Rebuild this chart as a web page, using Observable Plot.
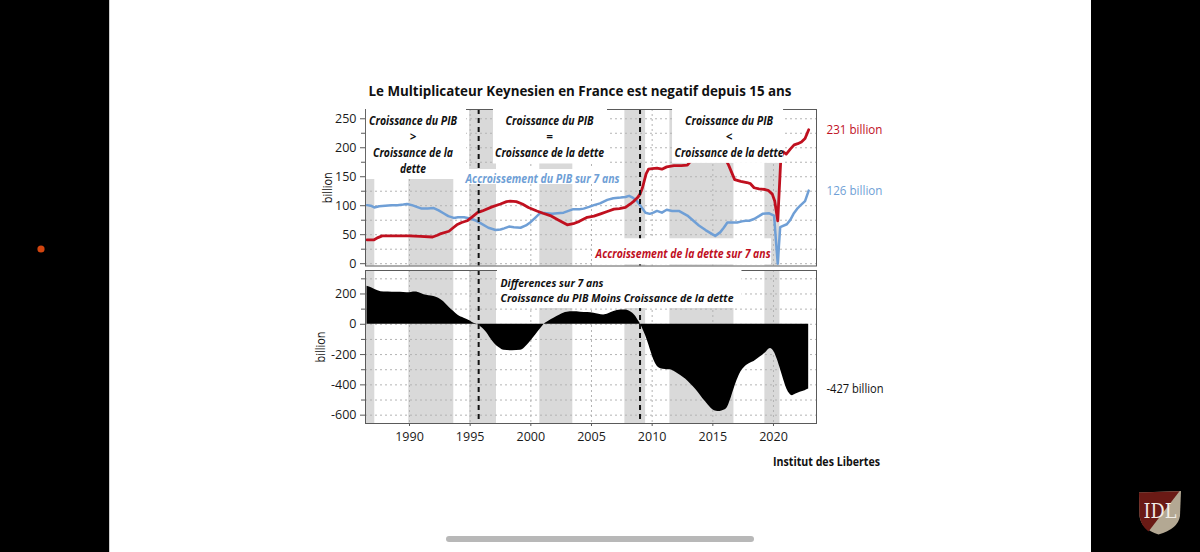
<!DOCTYPE html>
<html>
<head>
<meta charset="utf-8">
<script src="https://cdn.jsdelivr.net/npm/d3@7"></script>
<script src="https://cdn.jsdelivr.net/npm/@observablehq/plot@0.6"></script>
<style>
  html, body { margin: 0; padding: 0; background: #fff; }
  body { width: 1200px; height: 552px; position: relative; overflow: hidden; font-family: "Open Sans", sans-serif; }
  #deco { position: absolute; left: 0; top: 0; }
  #topPanel { position: absolute; left: 300px; top: 100px; }
  #bottomPanel { position: absolute; left: 300px; top: 268px; }
  #topPanel svg, #bottomPanel svg { background: transparent; overflow: visible; }
</style>
</head>
<body>
<svg id="deco" width="1200" height="552" xmlns="http://www.w3.org/2000/svg">
  <rect x="0" y="0" width="109" height="552" fill="#000"/>
  <rect x="109" y="0" width="1" height="552" fill="#cfcfcf"/>
  <rect x="1091" y="0" width="109" height="552" fill="#000"/>
  <circle cx="41" cy="249" r="3.6" fill="#d2450f"/>
  <rect x="446" y="536" width="308" height="6" rx="3" fill="#b8b8b8"/>
  <path d="M1139,492.5 L1181,491 L1180,516 Q1178,529 1158.5,534.5 Q1141,529 1139.5,516 Z" fill="#b3a893"/>
  <path d="M1139,492.5 L1179.5,491.2 L1148.5,531.5 Q1141,526 1139.5,516 Z" fill="#6a1a15"/>
  <text x="1160" y="518" text-anchor="middle" font-family="DejaVu Serif, serif" font-size="20" fill="#f2eee8" textLength="33" lengthAdjust="spacingAndGlyphs">IDL</text>
  <text id="title" x="580" y="95.5" text-anchor="middle" font-family="'Open Sans', sans-serif" font-weight="bold" font-size="14.5" fill="#111" textLength="423" lengthAdjust="spacingAndGlyphs">Le Multiplicateur Keynesien en France est negatif depuis 15 ans</text>
  <text id="source" x="880" y="466" text-anchor="end" font-family="'Open Sans', sans-serif" font-weight="bold" font-size="12.5" fill="#111" textLength="107" lengthAdjust="spacingAndGlyphs">Institut des Libertes</text>
</svg>
<div id="topPanel"></div>
<div id="bottomPanel"></div>
<script>
// ---------------- DATA ----------------
// 7-year growth of GDP (billion) — blue
const pibYears = [1986.5, 1986.8, 1987.1, 1987.5, 1988.0, 1988.5, 1989.0, 1989.5, 1989.8, 1990.2, 1990.6, 1991.0, 1991.5, 1992.0, 1992.4, 1992.8, 1993.2, 1993.65, 1994.0, 1994.5, 1995.0, 1995.4, 1995.85, 1996.5, 1997.1, 1997.5, 1997.8, 1998.2, 1998.6, 1999.15, 1999.6, 2000.0, 2000.4, 2000.8, 2001.3, 2001.75, 2002.2, 2002.7, 2003.1, 2003.5, 2004.0, 2004.35, 2004.8, 2005.2, 2005.7, 2006.3, 2006.8, 2007.4, 2007.8, 2008.1, 2008.4, 2008.75, 2009.1, 2009.45, 2009.8, 2010.1, 2010.4, 2010.8, 2011.2, 2011.65, 2012.2, 2012.9, 2013.4, 2013.85, 2014.4, 2014.95, 2015.2, 2015.6, 2015.9, 2016.2, 2016.6, 2017.0, 2017.4, 2017.7, 2018.0, 2018.4, 2018.8, 2019.1, 2019.65, 2020.05, 2020.2, 2020.35, 2020.55, 2021.1, 2021.4, 2021.65, 2022.0, 2022.2, 2022.6, 2022.9];
const pibValues = [101, 100, 97, 99, 100, 101, 101, 102, 103, 101, 98, 95, 95, 96, 92, 87, 82, 79, 80, 80, 78, 75, 70, 62, 58, 59, 61, 64, 63, 62, 66, 72, 80, 88, 87, 86, 87, 88, 91, 94, 94, 95, 98, 101, 104, 110, 113, 114, 115, 117, 114, 108, 98, 88, 86, 88, 91, 88, 93, 91, 91, 83, 74, 66, 58, 51, 48, 54, 62, 71, 71, 71, 73, 74, 74, 77, 82, 86, 87, 83, 40, 0, 63, 68, 76, 86, 96, 100, 108, 126];

// 7-year growth of public debt (billion) — red
const detteYears = [1986.5, 1987.05, 1987.4, 1987.75, 1988.5, 1989.25, 1990.0, 1990.9, 1991.9, 1992.3, 1992.6, 1993.25, 1993.6, 1993.9, 1994.3, 1994.75, 1995.3, 1995.6, 1996.0, 1996.8, 1997.5, 1998.0, 1998.3, 1998.8, 1999.3, 1999.8, 2000.5, 2001.0, 2001.6, 2002.3, 2003.0, 2003.5, 2004.0, 2004.65, 2005.2, 2005.75, 2006.3, 2006.85, 2007.3, 2007.8, 2008.2, 2008.5, 2008.8, 2009.0, 2009.2, 2009.5, 2009.7, 2010.0, 2010.4, 2010.8, 2011.2, 2011.8, 2012.4, 2012.9, 2013.3, 2013.8, 2014.4, 2015.0, 2015.6, 2016.0, 2016.3, 2016.8, 2017.3, 2017.8, 2018.1, 2018.4, 2018.8, 2019.3, 2019.6, 2019.9, 2020.1, 2020.35, 2020.6, 2020.8, 2021.05, 2021.4, 2021.7, 2022.0, 2022.3, 2022.6, 2022.9];
const detteValues = [41, 41, 45, 48, 48, 48, 48, 47, 46, 49, 52, 56, 62, 67, 71, 74, 83, 88, 91, 98, 103, 107, 108, 107, 103, 97, 91, 87, 83, 75, 67, 69, 73, 80, 82, 86, 90, 94, 95, 97, 103, 108, 114, 120, 131, 155, 163, 164, 165, 163, 167, 169, 169, 170, 180, 188, 193, 196, 193, 182, 170, 145, 142, 140, 138, 131, 129, 128, 126, 120, 108, 74, 180, 193, 189, 198, 205, 207, 210, 216, 231];

// 7-year difference: GDP growth minus debt growth (billion) — black area
const diffYears = [1986.5, 1986.9, 1987.4, 1987.9, 1988.6, 1989.25, 1989.8, 1990.5, 1990.9, 1991.2, 1992.0, 1992.4, 1992.8, 1993.2, 1993.65, 1994.0, 1994.5, 1995.0, 1995.3, 1995.6, 1996.0, 1996.3, 1996.7, 1997.0, 1997.4, 1997.8, 1998.5, 1999.15, 1999.5, 1999.7, 2000.0, 2000.4, 2000.8, 2001.1, 2001.5, 2001.9, 2002.4, 2003.0, 2003.5, 2004.1, 2004.7, 2005.2, 2005.6, 2006.0, 2006.4, 2006.85, 2007.4, 2007.8, 2008.1, 2008.4, 2008.65, 2008.85, 2009.05, 2009.3, 2009.6, 2009.9, 2010.15, 2010.4, 2010.7, 2011.1, 2011.5, 2011.9, 2012.35, 2012.75, 2013.15, 2013.6, 2014.0, 2014.4, 2014.8, 2015.2, 2015.6, 2015.9, 2016.2, 2016.45, 2016.7, 2017.0, 2017.3, 2017.6, 2018.0, 2018.4, 2018.9, 2019.3, 2019.75, 2020.05, 2020.3, 2020.6, 2020.85, 2021.1, 2021.35, 2021.55, 2021.8, 2022.2, 2022.6, 2022.9];
const diffValues = [251, 240, 222, 213, 212, 211, 208, 213, 205, 195, 184, 172, 151, 118, 84, 60, 40, 22, 7, 0, -25, -49, -95, -127, -155, -172, -175, -172, -155, -138, -110, -71, -30, 0, 22, 40, 62, 80, 82, 80, 77, 73, 66, 62, 70, 84, 95, 94, 88, 72, 51, 25, 0, -45, -105, -180, -238, -275, -293, -298, -300, -315, -338, -362, -393, -430, -471, -512, -549, -572, -576, -568, -549, -500, -438, -370, -316, -285, -260, -245, -216, -192, -160, -182, -230, -304, -370, -427, -460, -471, -462, -449, -438, -427];

// shaded periods
const shadeStart = [1986.4, 1989.94, 1994.95, 2000.74, 2007.75, 2011.46, 2019.29];
const shadeEnd   = [1987.14, 1993.65, 1997.17, 2003.46, 2009.46, 2016.74, 2020.53];

// regime breaks (dashed lines)
const regimeBreaks = [1995.7, 2009.0];

// tick labels
const xTicks = [1990, 1995, 2000, 2005, 2010, 2015, 2020];
const topTicks = [0, 50, 100, 150, 200, 250];
const topMinor = [25, 75, 125, 175, 225];
const topGrid = [0, 25, 50, 75, 100, 125, 150, 175, 200, 225, 250];
const bottomTicks = [-600, -400, -200, 0, 200];
const bottomMinor = [-500, -300, -100, 100, 300];
const bottomGrid = [-600, -500, -400, -300, -200, -100, 0, 100, 200, 300];

// annotations (positions in data units)
const regimeNotes = [
  {x: 1990.29, y: 206.5, text: "Croissance du PIB\n>\nCroissance de la\ndette"},
  {x: 2001.54, y: 220.3, text: "Croissance du PIB\n=\nCroissance de la dette"},
  {x: 2016.34, y: 220.3, text: "Croissance du PIB\n<\nCroissance de la dette"}
];
const blueNote = [{x: 2000.96, y: 145, text: "Accroissement du PIB sur 7 ans"}];
const redNote = [{x: 2012.55, y: 17, text: "Accroissement de la dette sur 7 ans"}];
const bottomNotes = [
  {x: 1997.5, y: 228.3, text: "Differences sur 7 ans\nCroissance du PIB Moins Croissance de la dette"}
];
// white label backgrounds (data units)
const topBoxes = [
  {x1: 1986.45, x2: 1994.7, y1: 145.2, y2: 266},
  {x1: 1996.92, x2: 2006.32, y1: 172, y2: 266},
  {x1: 2011.68, x2: 2020.83, y1: 173, y2: 266},
  {x1: 1994.37, x2: 2007.72, y1: 136.6, y2: 162.5},
  {x1: 2005.1, x2: 2019.84, y1: -2, y2: 43}
];
const bottomBoxes = [
  {x1: 1997.25, x2: 2017.4, y1: 104, y2: 355}
];

// ---------------- STYLE ----------------
const RED = "#c0101f";
const BLUE = "#6f9fd6";
const SHADE = "#d9d9d9";
const GRID = "#b4b4b4";
const FRAME = "#5a5a5a";
const FONT = "'Open Sans', sans-serif";
const xDomain = [1986.374, 2023.544];
const topDomain = [-4, 266];
const bottomDomain = [-655, 355];
const textWidths = {
  "Croissance du PIB": 88,
  "Croissance de la": 80,
  "dette": 26,
  "Croissance de la dette": 109,
  "Accroissement du PIB sur 7 ans": 154,
  "Accroissement de la dette sur 7 ans": 175,
  "Differences sur 7 ans": 103,
  "Croissance du PIB Moins Croissance de la dette": 233,
  "231 billion": 56,
  "126 billion": 56,
  "-427 billion": 57,
  "billion": 31
};

// ---------------- TABLES ----------------
const pib = pibYears.map((year, i) => ({year, value: pibValues[i]}));
const dette = detteYears.map((year, i) => ({year, value: detteValues[i]}));
const diff = diffYears.map((year, i) => ({year, value: diffValues[i]}));
const shades = shadeStart.map((s, i) => ({start: s, end: shadeEnd[i]}));
const lastPib = pib[pib.length - 1];
const lastDette = dette[dette.length - 1];
const lastDiff = diff[diff.length - 1];

const noteStyle = {fontWeight: "bold", fontStyle: "italic"};

function fitTexts(svg) {
  svg.querySelectorAll("text, tspan").forEach(t => {
    if (t.tagName === "text" && t.querySelector("tspan")) return;
    const w = textWidths[t.textContent];
    if (w) { t.setAttribute("textLength", w); t.setAttribute("lengthAdjust", "spacingAndGlyphs"); }
  });
}

// ---------------- TOP PANEL ----------------
const topPlot = Plot.plot({
  width: 600, height: 168,
  marginLeft: 65, marginRight: 84, marginTop: 9, marginBottom: 2.5,
  x: {domain: xDomain, axis: null},
  y: {domain: topDomain, axis: null},
  style: {fontFamily: FONT, fontSize: "12px", color: "#1a1a1a", background: "transparent"},
  marks: [
    Plot.rect(shades, {x1: "start", x2: "end", y1: topDomain[0], y2: topDomain[1], fill: SHADE}),
    Plot.ruleY(topGrid, {stroke: GRID, strokeDasharray: "2,3", strokeWidth: 1}),
    Plot.ruleX(xTicks, {stroke: GRID, strokeDasharray: "2,3", strokeWidth: 1}),
    Plot.line(pib, {x: "year", y: "value", stroke: BLUE, strokeWidth: 2.5}),
    Plot.line(dette, {x: "year", y: "value", stroke: RED, strokeWidth: 2.8}),
    Plot.ruleX(regimeBreaks, {stroke: "#111", strokeWidth: 2, strokeDasharray: "5,4"}),
    Plot.frame({stroke: FRAME, strokeWidth: 1}),
    Plot.axisY(topTicks, {tickSize: 5, tickPadding: 4, tickFormat: d => String(d), stroke: FRAME, fontSize: 12.5}),
    Plot.axisY(topMinor, {tickSize: 4, tickFormat: () => "", stroke: FRAME}),
    Plot.rect(topBoxes, {x1: "x1", x2: "x2", y1: "y1", y2: "y2", fill: "white"}),
    Plot.text(regimeNotes, {x: "x", y: "y", text: "text", fill: "#111", fontSize: 11.5, lineHeight: 16 / 11.5, ...noteStyle}),
    Plot.text(blueNote, {x: "x", y: "y", text: "text", fill: BLUE, fontSize: 12, ...noteStyle}),
    Plot.text(redNote, {x: "x", y: "y", text: "text", fill: RED, fontSize: 12, ...noteStyle}),
    Plot.text(["billion"], {frameAnchor: "left", rotate: -90, dx: -38, textAnchor: "middle", fontSize: 12.5, fill: "#111"}),
    Plot.text([lastDette], {x: xDomain[1], y: "value", text: d => `${d.value} billion`, dx: 10, textAnchor: "start", fill: RED, fontSize: 12.5}),
    Plot.text([lastPib], {x: xDomain[1], y: "value", text: d => `${d.value} billion`, dx: 10, textAnchor: "start", fill: BLUE, fontSize: 12.5})
  ]
});
fitTexts(topPlot);
document.getElementById("topPanel").appendChild(topPlot);

// ---------------- BOTTOM PANEL ----------------
const bottomPlot = Plot.plot({
  width: 600, height: 194,
  marginLeft: 65, marginRight: 84, marginTop: 2, marginBottom: 39,
  x: {domain: xDomain, axis: null},
  y: {domain: bottomDomain, axis: null},
  style: {fontFamily: FONT, fontSize: "12px", color: "#1a1a1a", background: "transparent"},
  marks: [
    Plot.rect(shades, {x1: "start", x2: "end", y1: bottomDomain[0], y2: bottomDomain[1], fill: SHADE}),
    Plot.ruleY(bottomGrid, {stroke: GRID, strokeDasharray: "2,3", strokeWidth: 1}),
    Plot.ruleX(xTicks, {stroke: GRID, strokeDasharray: "2,3", strokeWidth: 1}),
    Plot.areaY(diff, {x: "year", y: "value", fill: "#000", curve: "monotone-x"}),
    Plot.ruleX(regimeBreaks, {stroke: "#111", strokeWidth: 2, strokeDasharray: "5,4"}),
    Plot.frame({stroke: FRAME, strokeWidth: 1}),
    Plot.axisX(xTicks, {tickSize: 3, tickPadding: 6, tickFormat: d => String(d), stroke: FRAME, fontSize: 12.5}),
    Plot.axisY(bottomTicks, {tickSize: 5, tickPadding: 4, tickFormat: d => String(d), stroke: FRAME, fontSize: 12.5}),
    Plot.axisY(bottomMinor, {tickSize: 4, tickFormat: () => "", stroke: FRAME}),
    Plot.rect(bottomBoxes, {x1: "x1", x2: "x2", y1: "y1", y2: "y2", fill: "white"}),
    Plot.text(bottomNotes, {x: "x", y: "y", text: "text", fill: "#111", textAnchor: "start", fontSize: 11.2, lineHeight: 15.5 / 11.2, ...noteStyle}),
    Plot.text(["billion"], {frameAnchor: "left", rotate: -90, dx: -45, textAnchor: "middle", fontSize: 12.5, fill: "#111"}),
    Plot.text([lastDiff], {x: xDomain[1], y: "value", text: d => `${d.value} billion`, dx: 10, textAnchor: "start", fill: "#111", fontSize: 12.5})
  ]
});
fitTexts(bottomPlot);
document.getElementById("bottomPanel").appendChild(bottomPlot);
</script>
</body>
</html>
